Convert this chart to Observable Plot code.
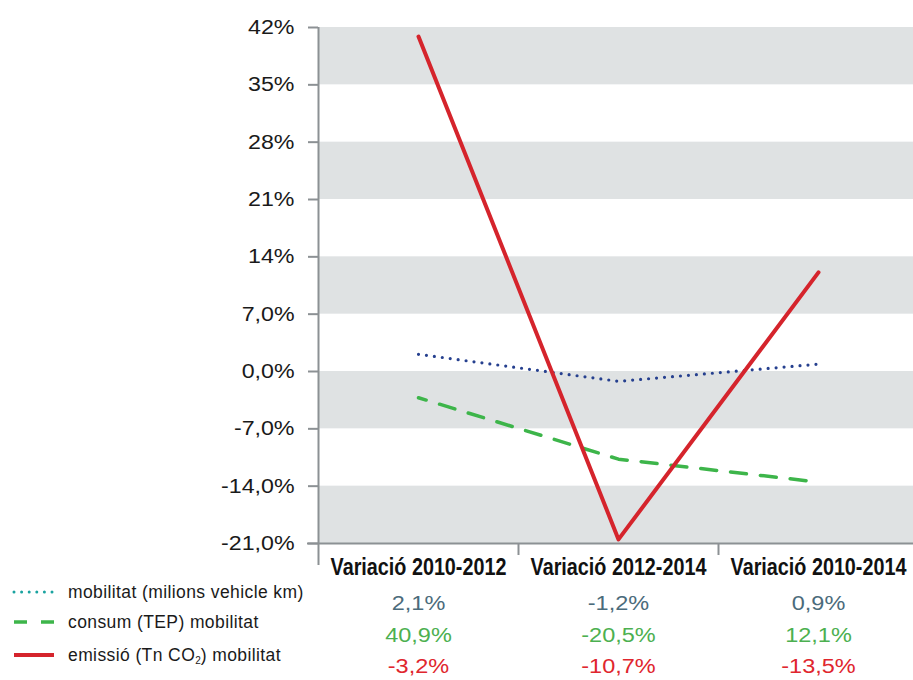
<!DOCTYPE html>
<html>
<head>
<meta charset="utf-8">
<script src="https://cdn.jsdelivr.net/npm/d3@7"></script>
<script src="https://cdn.jsdelivr.net/npm/@observablehq/plot@0.6"></script>
<style>
  html, body { margin: 0; padding: 0; background: #fff; }
  #wrap { position: relative; width: 913px; height: 680px; font-family: "Liberation Sans", Arial, sans-serif; }
  .leg { position: absolute; left: 0; height: 20px; display: flex; align-items: center; font-size: 17.5px; color: #1a1a1a; letter-spacing: 0.4px; white-space: nowrap; }
  .leg svg { margin-left: 12px; margin-right: 12px; }
  .leg sub { font-size: 10px; vertical-align: -3px; letter-spacing: 0; }
</style>
</head>
<body>
<div id="wrap"></div>
<script>
const categories = ["Variació 2010-2012", "Variació 2012-2014", "Variació 2010-2014"];
const mobilitat = [2.1, -1.2, 0.9];
const consum = [-3.2, -10.7, -13.5];
const emissio = [40.9, -20.5, 12.1];
const yTicks = [42, 35, 28, 21, 14, 7, 0, -7, -14, -21];
const yTickLabels = ["42%", "35%", "28%", "21%", "14%", "7,0%", "0,0%", "-7,0%", "-14,0%", "-21,0%"];
const bandLows = [35, 21, 7, -7, -21];
const bandHighs = [42, 28, 14, 0, -14];

const fmt = v => v.toFixed(1).replace(".", ",") + "%";
const pts = arr => arr.map((v, i) => ({x: i + 0.5, y: v}));
const bands = bandLows.map((lo, i) => ({lo, hi: bandHighs[i]}));
const rows = [
  {values: mobilitat, color: "#4b6b7b", dy: 66},
  {values: emissio, color: "#4cb050", dy: 98},
  {values: consum, color: "#e0262e", dy: 129}
];
const axisGrey = "#8c9194";

const marks = [
  Plot.rectY(bands, {y1: "lo", y2: "hi", fill: "#dfe2e3"}),
  Plot.ruleX([0], {y1: 42, y2: -21, insetBottom: -22, stroke: axisGrey, strokeWidth: 2}),
  Plot.ruleY([-21], {x1: 0, x2: 3, insetLeft: -11, stroke: axisGrey, strokeWidth: 2}),
  Plot.ruleX([1, 2], {y1: -21, y2: -21, insetBottom: -12, stroke: axisGrey, strokeWidth: 2}),
  Plot.axisY({
    ticks: yTicks,
    tickFormat: d => yTickLabels[yTicks.indexOf(d)],
    tickSize: 10, tickPadding: 14, fontSize: 20,
    stroke: axisGrey, strokeWidth: 2, fill: "#1a1a1a"
  }),
  Plot.line(pts(consum), {x: "x", y: "y", stroke: "#3db54a", strokeWidth: 3.5, strokeDasharray: "16,14", strokeDashoffset: 8}),
  Plot.line(pts(mobilitat), {x: "x", y: "y", stroke: "#26408f", strokeWidth: 3.2, strokeDasharray: "0,8", strokeLinecap: "round"}),
  Plot.line(pts(emissio), {x: "x", y: "y", stroke: "#d5242c", strokeWidth: 4}),
  Plot.text(categories, {x: (d, i) => i + 0.5, text: d => d, frameAnchor: "bottom", dy: 31,
    fontSize: 23, fontWeight: "bold", fontFamily: "'Liberation Sans', Arial, sans-serif", fill: "#111"}),
  ...rows.map(r => Plot.text(r.values, {x: (d, i) => i + 0.5, text: d => fmt(d), frameAnchor: "bottom", dy: r.dy,
    fontSize: 21, fill: r.color}))
];

const chart = Plot.plot({
  width: 913,
  height: 680,
  marginLeft: 318,
  marginRight: 0,
  marginTop: 27,
  marginBottom: 137,
  x: {type: "linear", domain: [0, 3], range: [318, 918], axis: null},
  y: {type: "linear", domain: [-21, 42], axis: null},
  style: {fontFamily: "'Liberation Sans', Arial, sans-serif", fontSize: "19px", color: "#1a1a1a", background: "white", overflow: "visible"},
  marks
});
const wrap = document.getElementById("wrap");
wrap.appendChild(chart);

// horizontal stretch of glyphs (about each text's anchor) to mimic the reference's type widths
function stretchTexts(texts, factor) {
  texts.forEach(t => {
    const x = +(t.getAttribute("x") || 0);
    const tr = t.getAttribute("transform") || "";
    t.setAttribute("transform", `${tr} translate(${x},0) scale(${factor},1) translate(${-x},0)`.trim());
  });
}
stretchTexts(chart.querySelectorAll('g[aria-label="y-axis tick label"] text'), 1.16);
const textGroups = chart.querySelectorAll('g[aria-label="text"]');
textGroups.forEach((g, gi) => stretchTexts(g.querySelectorAll("text"), gi === 0 ? 0.86 : 1.12));

const legendItems = [
  {label: "mobilitat (milions vehicle km)", top: 582, svg: '<line x1="2" y1="7" x2="42" y2="7" stroke="#1aa3a0" stroke-width="3" stroke-dasharray="0,7.6" stroke-linecap="round"/>'},
  {label: "consum (TEP) mobilitat", top: 612, svg: '<line x1="2" y1="7" x2="42" y2="7" stroke="#3db54a" stroke-width="3.5" stroke-dasharray="13,14"/>'},
  {label: "emissió (Tn CO<sub>2</sub>) mobilitat", top: 645, svg: '<line x1="2" y1="7" x2="42" y2="7" stroke="#d5242c" stroke-width="4"/>'}
];
legendItems.forEach(it => {
  const d = document.createElement("div");
  d.className = "leg";
  d.style.top = it.top + "px";
  d.innerHTML = '<svg width="44" height="14">' + it.svg + '</svg><span>' + it.label + '</span>';
  wrap.appendChild(d);
});
</script>
</body>
</html>
